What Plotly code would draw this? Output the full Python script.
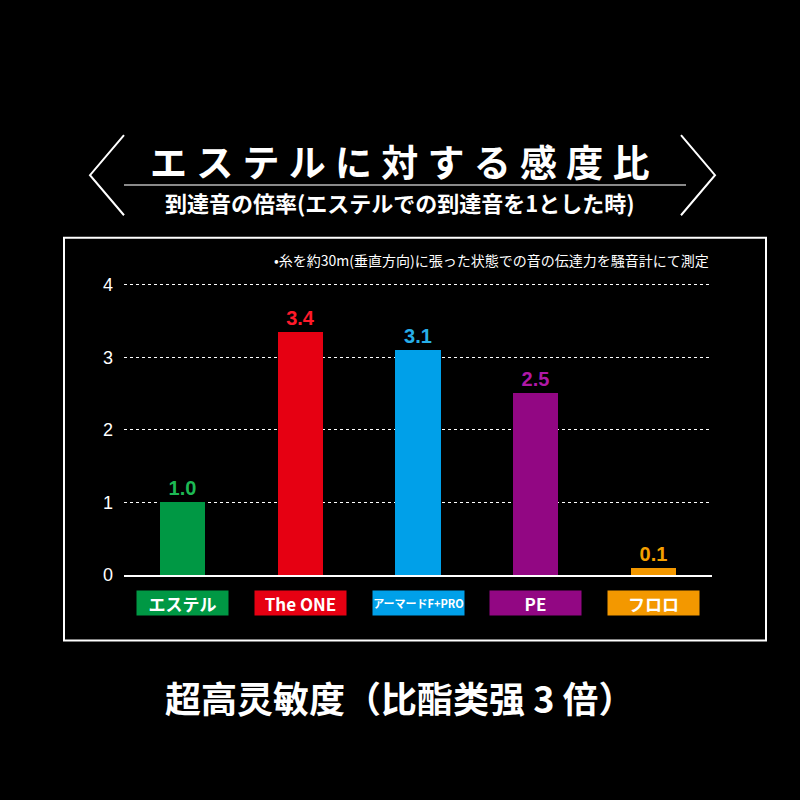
import plotly.graph_objects as go

categories = ["エステル", "The ONE", "アーマードF+PRO", "PE", "フロロ"]
values = [1.0, 3.35, 3.1, 2.5, 0.1]
value_labels = ["1.0", "3.4", "3.1", "2.5", "0.1"]
bar_colors = ["#009844", "#e60012", "#00a0e9", "#920783", "#f39800"]
label_colors = ["#1db954", "#ff1a2a", "#27aee8", "#b018a6", "#f5a000"]
y_ticks = [0, 1, 2, 3, 4]

W, H = 800, 800
def px(x): return x / W
def py(y): return 1 - y / H

fig = go.Figure()
fig.add_trace(go.Bar(
    x=list(range(len(categories))), y=values,
    marker=dict(color=bar_colors, line=dict(width=0)),
    width=0.385,
    text=value_labels, textposition="outside",
    textfont=dict(color=label_colors, size=20, family="Liberation Sans", weight="bold"),
    cliponaxis=False,
    hoverinfo="skip",
))

CJK = "Noto Sans CJK JP"
ann = []
# Category label boxes
for i, (c, col) in enumerate(zip(categories, bar_colors)):
    fs = 17 if len(c) < 8 else 11
    ann.append(dict(x=i, xref="x", y=py(609), yref="paper", text=f"<b>{c}</b>",
                    showarrow=False, width=91, height=24, bgcolor=col,
                    borderpad=0, font=dict(color="white", size=fs, family=CJK),
                    xanchor="center", yanchor="middle"))

sp = "\u2005"
title = "エステルに対する感度比"
ann.append(dict(x=0.5, y=py(157), xref="paper", yref="paper",
                text="<b>" + sp.join(title) + "</b>", showarrow=False,
                font=dict(color="white", size=37, family=CJK),
                xanchor="center", yanchor="middle"))
ann.append(dict(x=0.5, y=py(198), xref="paper", yref="paper",
                text="<b>到達音の倍率(エステルでの到達音を1とした時)</b>", showarrow=False,
                font=dict(color="white", size=22, family=CJK),
                xanchor="center", yanchor="middle"))
ann.append(dict(x=px(711), y=py(258), xref="paper", yref="paper",
                text="•糸を約30m(垂直方向)に張った状態での音の伝達力を騒音計にて測定", showarrow=False,
                font=dict(color="white", size=14, family=CJK),
                xanchor="right", yanchor="middle"))
ann.append(dict(x=0.5, y=py(705), xref="paper", yref="paper",
                text="<b>超高灵敏度（比酯类强 3 倍）</b>", showarrow=False,
                font=dict(color="white", size=36, family="Noto Sans CJK SC"),
                xanchor="center", yanchor="middle"))

shapes = [
    dict(type="rect", xref="paper", yref="paper", x0=px(64), x1=px(766), y0=py(647), y1=py(235),
         line=dict(color="white", width=2)),
    dict(type="path", xref="paper", yref="paper",
         path=f"M {px(124)},{py(130)} L {px(90)},{py(171)} L {px(124)},{py(212)}",
         line=dict(color="white", width=2)),
    dict(type="path", xref="paper", yref="paper",
         path=f"M {px(681)},{py(130)} L {px(715)},{py(171)} L {px(681)},{py(212)}",
         line=dict(color="white", width=2)),
    dict(type="line", xref="paper", yref="paper", x0=px(124), x1=px(686), y0=py(181), y1=py(181),
         line=dict(color="#8a8a8a", width=2)),
]

fig.update_layout(
    width=W, height=H, margin=dict(l=0, r=0, t=0, b=0),
    paper_bgcolor="black", plot_bgcolor="black",
    showlegend=False, bargap=0,
    xaxis=dict(domain=[px(124), px(712)], range=[-0.5, 4.5], showticklabels=False,
               showgrid=False, zeroline=False, showline=True, linecolor="white", linewidth=2,
               fixedrange=True),
    yaxis=dict(domain=[py(580), py(281.5)], range=[0, 4.02], tickvals=y_ticks,
               showgrid=True, gridcolor="white", gridwidth=1, griddash="dot",
               zeroline=False, showline=False, ticks="",
               tickfont=dict(color="white", size=18, family="Liberation Sans"),
               ticklabelstandoff=10, fixedrange=True),
    annotations=ann, shapes=shapes,
)

fig.write_html("out.html", config={"displayModeBar": False},
               post_script="document.body.style.margin='0';document.body.style.background='black';")
